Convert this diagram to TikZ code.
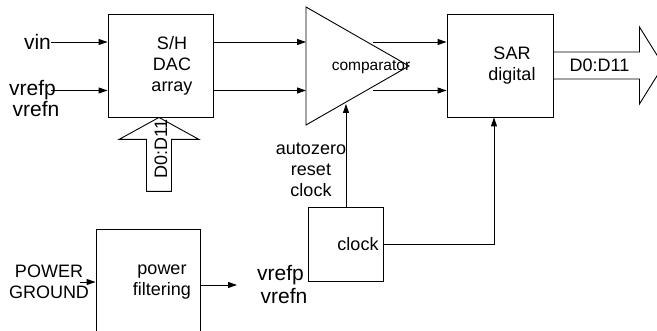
\documentclass[tikz,border=0pt]{standalone}
\usepackage{fontspec}
\setmainfont{Liberation Sans}
\usetikzlibrary{arrows.meta}

\begin{document}
\begin{tikzpicture}[x=1pt, y=-1pt,
	  block/.style={draw, line width=0.9pt, inner sep=0pt},
	  txt/.style={inner sep=0pt, align=center, font=\fontsize{18}{21}\selectfont},
	  big/.style={inner sep=0pt, font=\fontsize{21}{23}\selectfont},
	  small/.style={inner sep=0pt, font=\fontsize{15.5}{18}\selectfont},
	  sig/.style={-{Triangle[length=9pt,width=6pt]}, line width=0.9pt},
	  bus/.style={draw, line width=0.9pt, line join=miter},
	]
	\clip (0,0) rectangle (657,331);
	
	% Block S/H DAC
	\node[block, minimum width=105pt, minimum height=103pt] (sh) at (160.5,65.5) {};
	\node[txt] (shtxt) at (172,66) {S/H\\DAC\\array};
	
	% Comparator
	\coordinate (cmptl) at (306,7);
	\coordinate (cmpbl) at (306,125);
	\coordinate (cmptip) at (409,66);
	\draw[line width=0.9pt] (cmptl) -- (cmptip) -- (cmpbl) -- cycle;
	\node[small] (cmp) at (371,67) {comparator};
	
	% Block SAR
	\node[block, minimum width=106pt, minimum height=103pt] (sar) at (500,65.5) {};
	\node[txt] (sartxt) at (512,66) {SAR\\digital};
	
	% Block clock
	\node[block, minimum width=75pt, minimum height=74pt] (clk) at (345.5,244) {};
	\node[txt] (clktxt) at (358,244) {clock};
	
	% Block power filtering
	\node[block, minimum width=104pt, minimum height=122pt] (pf) at (148,290) {};
	\node[txt] (pftxt) at (162,282) {power\\filtering};
	
	% Inputs
	\node[big] (vin) at (37.5,42) {vin};
	\node[big] (vrefpu) at (32.5,90.5) {vrefp};
	\node[big] (vrefnu) at (36,109.5) {vrefn};
	\node[txt] (pwr) at (49,282) {POWER\\GROUND};
	\node[big] (vrefpl) at (280.5,275) {vrefp};
	\node[big] (vrefnl) at (284,296) {vrefn};
	\node[txt] (azr) at (311,170) {autozero\\reset\\clock};
	
	% Buses
	\draw[bus] (sar.east) ++(0,-13.5) -- ++(86,0) -- ++(0,-25) -- ++(24,38.5)
	  -- ++(-24,38.5) -- ++(0,-25) -- ++(-86,0);
	\node[txt] (dout) at (599.5,65.5) {D0:D11};
	\draw[bus] ([xshift=-1.5pt]sh.south) -- ++(40,22) -- ++(-27.5,0) -- ++(0,52)
	  -- ++(-25,0) -- ++(0,-52) -- ++(-27.5,0) -- cycle;
	\node[txt, rotate=90] (din) at (161,149) {D0:D11};
	
	% Signals
	\coordinate (cmpout1) at (373,42);
	\coordinate (cmpout2) at (373,90.5);
	\coordinate (cmpin) at (346,104);
	\coordinate (pwrin) at (80,282);
	\coordinate (pfout) at (237,285);
	\draw[sig] (vin.east) -- (vin.east -| sh.west);
	\draw[sig] ([xshift=-5pt]vrefpu.east) -- (vrefpu.east -| sh.west);
	\draw[sig] (sh.east |- vin) -- (cmptl |- vin);
	\draw[sig] (sh.east |- vrefpu) -- (cmptl |- vrefpu);
	\draw[sig] (cmpout1) -- (cmpout1 -| sar.west);
	\draw[sig] (cmpout2) -- (cmpout2 -| sar.west);
	\draw[sig] (clk.north -| cmpin) -- (cmpin);
	\draw[sig] (clk.east) -| ([xshift=-6pt]sar.south);
	\draw[sig] (pwrin) -- (pwrin -| pf.west);
	\draw[sig] (pf.east |- pfout) -- (pfout);
	
\end{tikzpicture}
\end{document}
